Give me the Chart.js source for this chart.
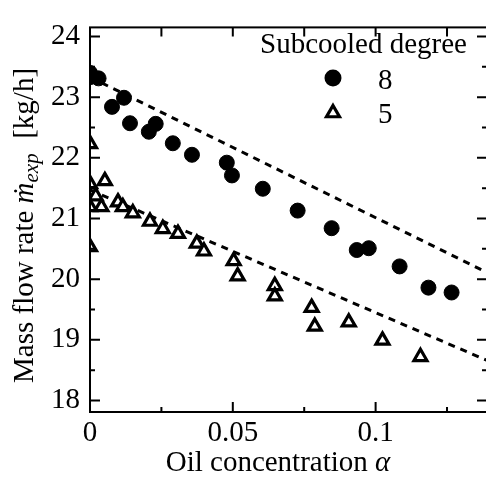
<!DOCTYPE html>
<html>
<head>
<meta charset="utf-8">
<script src="https://cdn.jsdelivr.net/npm/chart.js@4/dist/chart.umd.min.js"></script>
<style>
  html, body { margin: 0; padding: 0; background: #fff; overflow: hidden; }
  #wrap { width: 500px; height: 481px; }
</style>
</head>
<body>
<div id="wrap"><canvas id="c" width="500" height="481"></canvas></div>
<script>
// ---- data ----
const xTickValues = [0, 0.05, 0.1];
const xMinorTicks = [0.025, 0.075, 0.125];
const yTickValues = [18, 19, 20, 21, 22, 23, 24];
const yMinorTicks = [18.5, 19.5, 20.5, 21.5, 22.5, 23.5];

// Subcooled degree 8 (filled circles)
const circleAlpha = [0, 0, 0.003, 0.0077, 0.0119, 0.014, 0.0206, 0.023, 0.029, 0.0357, 0.0479, 0.0497, 0.0605, 0.0727, 0.0846, 0.0934, 0.0976, 0.1084, 0.1185, 0.1266];
const circleFlow  = [23.40, 23.33, 23.31, 22.84, 22.99, 22.57, 22.43, 22.56, 22.24, 22.05, 21.92, 21.71, 21.49, 21.13, 20.84, 20.48, 20.51, 20.21, 19.86, 19.78];

// Subcooled degree 5 (open triangles)
const triAlpha = [0, 0, 0.0052, 0.002, 0, 0.004, 0.0098, 0.0115, 0.015, 0.021, 0.0255, 0.0308, 0.0374, 0.0399, 0.0503, 0.0517, 0.0647, 0.0647, 0.0776, 0.0787, 0.0906, 0.1024, 0.1157, 0];
const triFlow  = [22.23, 21.57, 21.62, 21.37, 21.19, 21.19, 21.27, 21.19, 21.09, 20.95, 20.83, 20.75, 20.59, 20.46, 20.30, 20.05, 19.89, 19.72, 19.53, 19.22, 19.29, 18.99, 18.72, 20.53];

// dashed fit lines (end points)
const fitAlpha = [0, 0.139];
const fit8 = [23.33, 20.11];
const fit5 = [21.47, 18.66];

const legendTitle = 'Subcooled degree';
const seriesNames = ['8', '5'];

const X_MIN = 0, X_MAX = 0.139, Y_MIN = 17.81, Y_MAX = 24.15;
const FONT = '"Liberation Serif", "Times New Roman", serif';

const toPts = (xs, ys) => xs.map((x, i) => ({ x: x, y: ys[i] }));

const framePlugin = {
  id: 'frame',
  afterDatasetsDraw(chart) {
    const ctx = chart.ctx, a = chart.chartArea;
    const xs = chart.scales.x, ys = chart.scales.y;
    ctx.save();
    ctx.strokeStyle = '#000';
    ctx.lineWidth = 2;
    ctx.strokeRect(a.left, a.top, a.right - a.left, a.bottom - a.top);
    ctx.beginPath();
    xTickValues.forEach(v => {
      const p = xs.getPixelForValue(v);
      ctx.moveTo(p, a.bottom); ctx.lineTo(p, a.bottom - 10);
      ctx.moveTo(p, a.top); ctx.lineTo(p, a.top + 9);
    });
    xMinorTicks.forEach(v => {
      const p = xs.getPixelForValue(v);
      ctx.moveTo(p, a.bottom); ctx.lineTo(p, a.bottom - 5);
      ctx.moveTo(p, a.top); ctx.lineTo(p, a.top + 9);
    });
    yTickValues.forEach(v => {
      const p = ys.getPixelForValue(v);
      ctx.moveTo(a.left, p); ctx.lineTo(a.left + 10, p);
      ctx.moveTo(a.right, p); ctx.lineTo(a.right - 10, p);
    });
    yMinorTicks.forEach(v => {
      const p = ys.getPixelForValue(v);
      ctx.moveTo(a.left, p); ctx.lineTo(a.left + 5, p);
      ctx.moveTo(a.right, p); ctx.lineTo(a.right - 5, p);
    });
    ctx.stroke();

    // legend
    ctx.fillStyle = '#000';
    ctx.font = '29px ' + FONT;
    ctx.textBaseline = 'alphabetic';
    ctx.textAlign = 'left';
    ctx.fillText(legendTitle, 260, 53);
    Chart.helpers.drawPoint(ctx, { pointStyle: 'circle', radius: 7.5, borderWidth: 1 }, 333, 78);
    ctx.fillStyle = '#000';
    ctx.fillText(seriesNames[0], 378, 89);
    ctx.fillStyle = '#fff';
    ctx.lineWidth = 3.2;
    ctx.lineJoin = 'miter';
    Chart.helpers.drawPoint(ctx, { pointStyle: 'triangle', radius: 7.5, borderWidth: 3.2 }, 333, 113);
    ctx.fillStyle = '#000';
    ctx.fillText(seriesNames[1], 378, 123);

    // x axis title
    const t1 = 'Oil concentration ';
    ctx.font = 'italic 29px ' + FONT;
    const wA = ctx.measureText('α').width;
    ctx.font = '29px ' + FONT;
    const w1 = ctx.measureText(t1).width;
    let x0 = 278 - (w1 + wA) / 2;
    ctx.fillText(t1, x0, 471);
    ctx.font = 'italic 29px ' + FONT;
    ctx.fillText('α', x0 + w1, 471);

    // y axis title (rotated)
    ctx.save();
    ctx.translate(33, 383);
    ctx.rotate(-Math.PI / 2);
    let cx = 0;
    ctx.font = '29px ' + FONT;
    const s1 = 'Mass flow rate ';
    ctx.fillText(s1, cx, 0); cx += ctx.measureText(s1).width;
    ctx.font = 'italic 29px ' + FONT;
    ctx.fillText('ṁ', cx, 0); cx += ctx.measureText('ṁ').width;
    ctx.font = 'italic 21px ' + FONT;
    ctx.fillText('exp', cx, 5); cx += ctx.measureText('exp').width;
    ctx.font = '29px ' + FONT;
    ctx.fillText('  [kg/h]', cx, 0);
    ctx.restore();
    ctx.restore();
  }
};

new Chart(document.getElementById('c'), {
  type: 'scatter',
  data: {
    datasets: [
      { label: '8', data: toPts(circleAlpha, circleFlow), pointStyle: 'circle', pointRadius: 7.5,
        pointBackgroundColor: '#000', pointBorderColor: '#000', pointBorderWidth: 1, order: 1 },
      { label: '5', data: toPts(triAlpha, triFlow), pointStyle: 'triangle', pointRadius: 7.5,
        pointBackgroundColor: '#fff', pointBorderColor: '#000', pointBorderWidth: 3.2, order: 1 },
      { type: 'line', label: 'fit 8', data: toPts(fitAlpha, fit8), borderColor: '#000', borderWidth: 3,
        borderDash: [7, 6], pointRadius: 0, fill: false, order: 2 },
      { type: 'line', label: 'fit 5', data: toPts(fitAlpha, fit5), borderColor: '#000', borderWidth: 3,
        borderDash: [7, 6], pointRadius: 0, fill: false, order: 2 }
    ]
  },
  options: {
    responsive: false,
    animation: false,
    devicePixelRatio: 1,
    layout: { padding: { top: 13, right: 13, left: 0, bottom: 0 } },
    plugins: { legend: { display: false }, tooltip: { enabled: false } },
    scales: {
      x: {
        type: 'linear', min: X_MIN, max: X_MAX,
        grid: { display: false, drawTicks: false },
        border: { display: false },
        afterFit: s => { s.height = 69; },
        afterBuildTicks: s => { s.ticks = xTickValues.map(v => ({ value: v })); },
        ticks: { color: '#000', font: { family: FONT, size: 29 }, padding: 4,
                 maxRotation: 0, autoSkip: false, callback: v => String(v) }
      },
      y: {
        type: 'linear', min: Y_MIN, max: Y_MAX,
        grid: { display: false, drawTicks: false },
        border: { display: false },
        afterFit: s => { s.width = 90; },
        afterBuildTicks: s => { s.ticks = yTickValues.map(v => ({ value: v })); },
        ticks: { color: '#000', font: { family: FONT, size: 29 }, padding: 10, autoSkip: false,
                 callback: v => String(v) }
      }
    }
  },
  plugins: [framePlugin]
});
</script>
</body>
</html>
